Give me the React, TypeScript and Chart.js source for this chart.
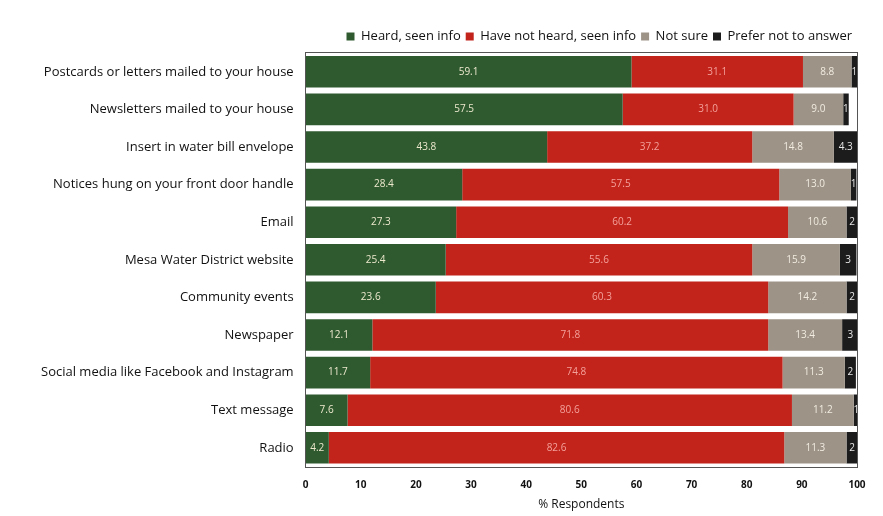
import React, { useEffect, useRef } from "react";
import { Chart, registerables } from "chart.js";

Chart.register(...registerables);

const categories = [
  "Postcards or letters mailed to your house",
  "Newsletters mailed to your house",
  "Insert in water bill envelope",
  "Notices hung on your front door handle",
  "Email",
  "Mesa Water District website",
  "Community events",
  "Newspaper",
  "Social media like Facebook and Instagram",
  "Text message",
  "Radio",
];

const heard = [59.1, 57.5, 43.8, 28.4, 27.3, 25.4, 23.6, 12.1, 11.7, 7.6, 4.2];
const notHeard = [31.1, 31.0, 37.2, 57.5, 60.2, 55.6, 60.3, 71.8, 74.8, 80.6, 82.6];
const notSure = [8.8, 9.0, 14.8, 13.0, 10.6, 15.9, 14.2, 13.4, 11.3, 11.2, 11.3];
const preferNot = [1, 1, 4.3, 1, 2, 3, 2, 3, 2, 1, 2];

const xTicks = [0, 10, 20, 30, 40, 50, 60, 70, 80, 90, 100];

const seriesNames = ["Heard, seen info", "Have not heard, seen info", "Not sure", "Prefer not to answer"];
const seriesColors = ["#2f5a30", "#c2231a", "#9d9387", "#1c1c1c"];
const labelColors = ["#ece8cc", "#f3a19b", "#f1ebe0", "#e6e6e6"];

const FONT = "'Open Sans', 'DejaVu Sans', sans-serif";

const valueLabels = {
  id: "valueLabels",
  afterDatasetsDraw(chart: any) {
    const ctx = chart.ctx;
    ctx.save();
    ctx.font = `10px ${FONT}`;
    ctx.textAlign = "center";
    ctx.textBaseline = "middle";
    chart.data.datasets.forEach((ds: any, i: number) => {
      const meta = chart.getDatasetMeta(i);
      meta.data.forEach((bar: any, j: number) => {
        const v = ds.data[j];
        const txt = i < 3 ? v.toFixed(1) : String(v);
        const cx = (bar.x + bar.base) / 2;
        ctx.fillStyle = labelColors[i];
        ctx.fillText(txt, cx, bar.y);
      });
    });
    // plot frame
    const a = chart.chartArea;
    ctx.strokeStyle = "#555";
    ctx.lineWidth = 1;
    ctx.strokeRect(Math.round(a.left) - 0.5, Math.round(a.top) - 0.5, Math.round(a.right - a.left) + 1, Math.round(a.bottom - a.top) + 1);
    ctx.restore();
  },
};

export default function App() {
  const ref = useRef<HTMLCanvasElement | null>(null);
  useEffect(() => {
    if (!ref.current) return;
    const series = [heard, notHeard, notSure, preferNot];
    const chart = new Chart(ref.current, {
      type: "bar",
      data: {
        labels: categories,
        datasets: series.map((d, i) => ({
          label: seriesNames[i],
          data: d,
          backgroundColor: seriesColors[i],
          borderWidth: 0,
          barPercentage: 0.84,
          categoryPercentage: 1,
        })),
      },
      options: {
        indexAxis: "y",
        animation: false,
        responsive: false,
        maintainAspectRatio: false,
        layout: { padding: { top: 25, left: 29, right: 26, bottom: 4 } },
        plugins: {
          legend: {
            position: "top",
            align: "end",
            labels: {
              boxWidth: 8,
              boxHeight: 8,
              padding: 5,
              color: "#111",
              font: { family: FONT, size: 13 },
            },
          },
          tooltip: { enabled: false },
        },
        scales: {
          x: {
            stacked: true,
            min: 0,
            max: 100,
            afterBuildTicks: (axis: any) => {
              axis.ticks = xTicks.map((v) => ({ value: v }));
            },
            grid: { display: false, drawTicks: false },
            border: { display: false },
            ticks: {
              color: "#111",
              padding: 13,
              font: { family: FONT, size: 10, weight: "bold" },
            },
            title: {
              display: true,
              text: "% Respondents",
              color: "#111",
              font: { family: FONT, size: 12 },
              padding: { top: -7, bottom: 0 },
            },
          },
          y: {
            stacked: true,
            grid: { display: false, drawTicks: false },
            border: { display: false },
            ticks: {
              color: "#111",
              padding: 12,
              font: { family: FONT, size: 13 },
            },
          },
        },
      },
      plugins: [valueLabels],
    });
    return () => chart.destroy();
  }, []);
  return (
    <div style={{ position: "fixed", left: 0, top: 0, width: 883, height: 516, background: "#fff" }}>
      <canvas ref={ref} width={883} height={516} style={{ width: 883, height: 516 }} />
    </div>
  );
}
